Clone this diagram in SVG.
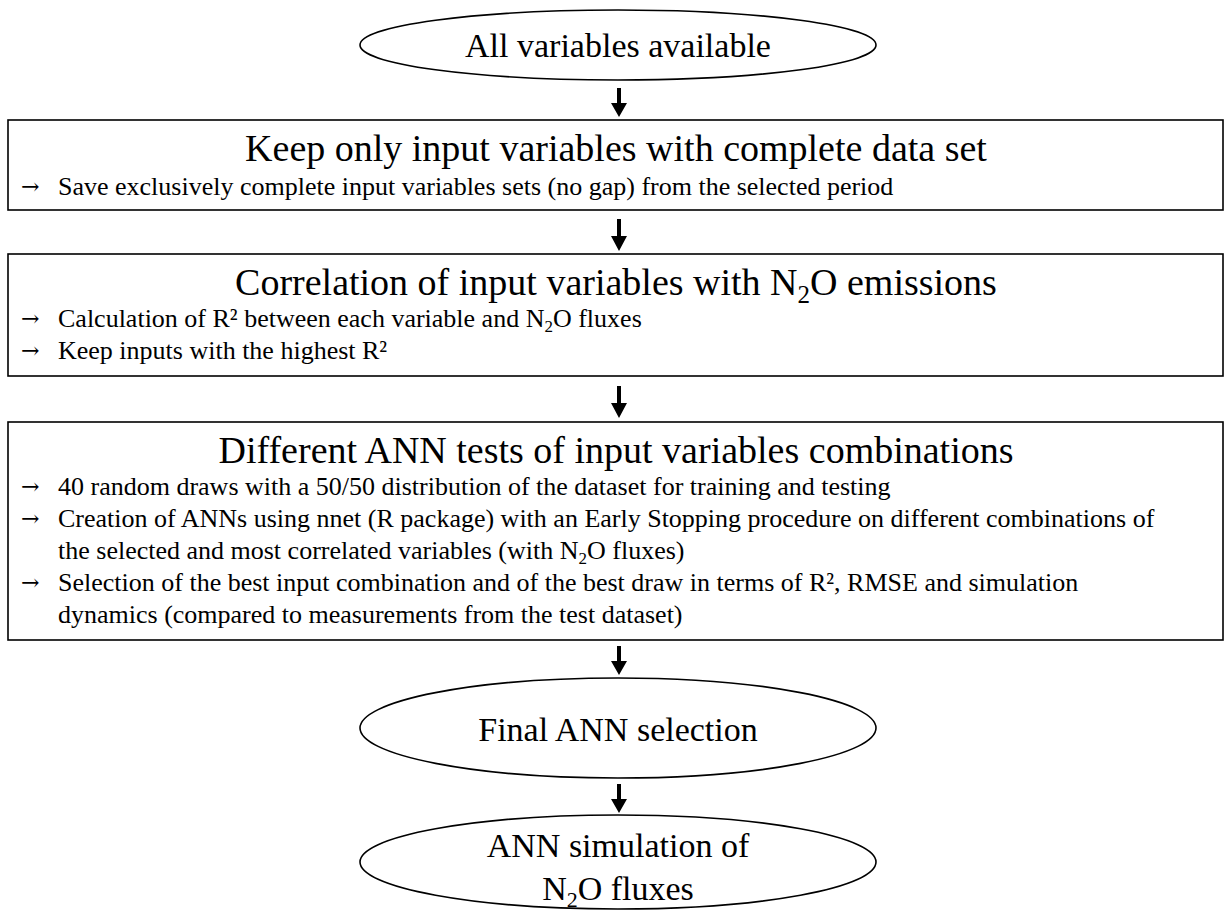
<svg xmlns="http://www.w3.org/2000/svg" width="1225" height="911" viewBox="0 0 1225 911">
<defs>
<style>
.shape{fill:#fff;stroke:#000;stroke-width:1.6}
.ell{font-family:"Liberation Serif","Times New Roman",serif;font-size:34px;fill:#000;text-anchor:middle}
.ttl{font-family:"Liberation Serif","Times New Roman",serif;font-size:38px;fill:#000;text-anchor:middle}
.body{font-family:"Liberation Serif","Times New Roman",serif;font-size:26px;fill:#000}
.arr{font-family:"DejaVu Serif","Liberation Serif",serif;font-size:22px;fill:#000}
.conn{fill:#000;stroke:none}
</style>
</defs>
<rect width="1225" height="911" fill="#fff"/>
<g id="connectors">
<path class="conn" d="M617,88 h4 v15 h6 l-8,14 l-8,-14 h6 z"/>
<path class="conn" d="M617,219 h4 v17 h6 l-8,15 l-8,-15 h6 z"/>
<path class="conn" d="M617,386 h4 v17 h6 l-8,15 l-8,-15 h6 z"/>
<path class="conn" d="M617,646 h4 v15 h6 l-8,14 l-8,-14 h6 z"/>
<path class="conn" d="M617,784 h4 v15 h6 l-8,14 l-8,-14 h6 z"/>
</g>
<g id="node-all-variables">
<ellipse class="shape" cx="618" cy="45" rx="258" ry="35"/>
<text class="ell" x="618" y="57">All variables available</text>
</g>
<g id="node-keep-complete">
<rect class="shape" x="8" y="120" width="1215" height="90"/>
<text class="ttl" x="616" y="161">Keep only input variables with complete data set</text>
<text class="arr" x="21" y="194">→</text>
<text class="body" x="58" y="195">Save exclusively complete input variables sets (no gap) from the selected period</text>
</g>
<g id="node-correlation">
<rect class="shape" x="8" y="254" width="1215" height="122"/>
<text class="ttl" x="616" y="295">Correlation of input variables with N<tspan font-size="25" dy="8">2</tspan><tspan dy="-8">O emissions</tspan></text>
<text class="arr" x="21" y="326">→</text>
<text class="body" x="58" y="327">Calculation of R² between each variable and N<tspan font-size="17" dy="5">2</tspan><tspan dy="-5">O fluxes</tspan></text>
<text class="arr" x="21" y="358">→</text>
<text class="body" x="58" y="359">Keep inputs with the highest R²</text>
</g>
<g id="node-ann-tests">
<rect class="shape" x="8" y="422" width="1215" height="218"/>
<text class="ttl" x="616" y="463">Different ANN tests of input variables combinations</text>
<text class="arr" x="21" y="494">→</text>
<text class="body" x="58" y="495">40 random draws with a 50/50 distribution of the dataset for training and testing</text>
<text class="arr" x="21" y="526">→</text>
<text class="body" x="58" y="527">Creation of ANNs using nnet (R package) with an Early Stopping procedure on different combinations of</text>
<text class="body" x="58" y="559">the selected and most correlated variables (with N<tspan font-size="17" dy="5">2</tspan><tspan dy="-5">O fluxes)</tspan></text>
<text class="arr" x="21" y="590">→</text>
<text class="body" x="58" y="591">Selection of the best input combination and of the best draw in terms of R², RMSE and simulation</text>
<text class="body" x="58" y="623">dynamics (compared to measurements from the test dataset)</text>
</g>
<g id="node-final-selection">
<ellipse class="shape" cx="618" cy="728" rx="258" ry="50"/>
<text class="ell" x="618" y="741">Final ANN selection</text>
</g>
<g id="node-simulation">
<ellipse class="shape" cx="618" cy="862" rx="258" ry="47"/>
<text class="ell" x="618" y="857">ANN simulation of</text>
<text class="ell" x="618" y="900">N<tspan font-size="22" dy="7">2</tspan><tspan dy="-7">O fluxes</tspan></text>
</g>
</svg>
